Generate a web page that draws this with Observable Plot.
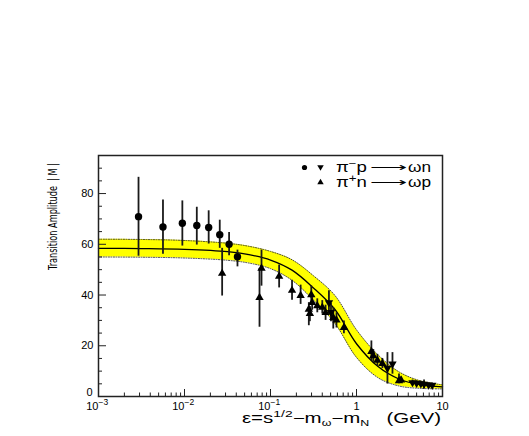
<!DOCTYPE html>
<html><head><meta charset="utf-8">
<script src="https://cdn.jsdelivr.net/npm/d3@7"></script>
<script src="https://cdn.jsdelivr.net/npm/@observablehq/plot@0.6"></script>
<style>html,body{margin:0;padding:0;background:#fff}#chart svg{display:block}</style>
</head><body><div id="chart"></div>
<script>
// ---- fitted curve with its uncertainty band ----
const fitEps = [0.001, 0.00316, 0.01, 0.0316, 0.0562, 0.1, 0.178, 0.316, 0.562, 1, 1.78, 3.16, 5.62, 10];
const fitAmp = [58.4, 58.3, 58.0, 57.1, 55.9, 53.8, 49.8, 42.8, 34.3, 20.8, 11.8, 6.8, 4.6, 3.8];
const fitLo  = [55.0, 54.9, 54.6, 53.7, 52.6, 50.4, 45.8, 38.0, 28.8, 15.4, 7.4, 4.1, 3.2, 3.0];
const fitHi  = [62.0, 61.9, 61.5, 60.4, 59.2, 57.2, 53.9, 47.6, 39.8, 26.3, 16.4, 9.6, 6.1, 4.6];

// ---- pi- p -> omega n : circles ----
const circEps = [0.00292, 0.00562, 0.00944, 0.0139, 0.0191, 0.0257, 0.033, 0.0413];
const circAmp = [70.9, 66.8, 68.3, 67.4, 66.6, 63.8, 60.0, 55.1];
const circLo  = [55.3, 56.1, 59.3, 59.7, 60.1, 58.4, 55.5, 51.1];
const circHi  = [86.4, 77.5, 77.1, 74.6, 73.2, 69.5, 64.6, 57.7];

// ---- pi- p -> omega n : down triangles ----
const downEps = [0.478, 0.505, 2.29, 2.62, 4.48, 5.0, 5.6, 6.1, 6.9, 7.6];
const downAmp = [37.0, 33.1, 11.2, 12.8, 5.5, 5.3, 5.1, 4.9, 4.6, 4.5];
const downLo  = [32.6, 29.5, 4.9, 8.8, 4.5, 4.4, 4.2, 3.0, 3.8, 3.8];
const downHi  = [41.7, 36.7, 17.3, 17.3, 6.5, 6.2, 6.0, 6.5, 5.4, 5.2];

// ---- pi+ n -> omega p : up triangles ----
const upEps = [0.0274, 0.0745, 0.0786, 0.126, 0.178, 0.224, 0.279, 0.287, 0.298, 0.305, 0.35, 0.40, 0.437, 0.537, 0.585, 0.714, 1.49, 1.57, 1.75, 2.0, 3.12, 3.3];
const upAmp = [48.5, 39.0, 50.5, 47.4, 41.8, 39.8, 34.4, 32.7, 40.1, 37.0, 35.7, 35.1, 33.1, 31.1, 30.1, 27.2, 17.7, 16.0, 14.3, 13.0, 6.2, 6.5];
const upLo  = [39.6, 27.3, 43.5, 42.8, 37.9, 36.3, 27.9, 29.5, 36.4, 34.0, 33.0, 32.5, 30.0, 26.6, 27.0, 24.7, 14.1, 13.5, 12.0, 11.0, 5.0, 5.3];
const upHi  = [58.4, 50.5, 57.7, 51.8, 45.8, 43.9, 37.0, 35.5, 43.6, 40.0, 38.5, 37.8, 36.0, 35.1, 33.0, 29.8, 21.9, 18.5, 16.6, 15.0, 8.9, 7.7];

// ---- axis ticks ----
const xMajorTicks = [0.001, 0.01, 0.1, 1, 10];
const xMinorTicks = [0.002,0.003,0.004,0.005,0.006,0.007,0.008,0.009,
                     0.02,0.03,0.04,0.05,0.06,0.07,0.08,0.09,
                     0.2,0.3,0.4,0.5,0.6,0.7,0.8,0.9,
                     2,3,4,5,6,7,8,9];
const xLabelBase = ["10", "10", "10", "1", "10"];
const xLabelExp  = ["\u22123", "\u22122", "\u22121", "", ""];
const yMajorTicks = [0, 20, 40, 60, 80];
const yMinorTicks = [5,10,15,25,30,35,45,50,55,65,70,75,85,90];

// build tables
const fit = fitEps.map((e, i) => ({eps: e, amp: fitAmp[i], lo: fitLo[i], hi: fitHi[i]}));
const mk = (E, A, L, H) => E.map((e, i) => ({eps: e, amp: A[i], lo: L[i], hi: H[i]}));
const circ = mk(circEps, circAmp, circLo, circHi);
const down = mk(downEps, downAmp, downLo, downHi);
const up = mk(upEps, upAmp, upLo, upHi);
const allPts = [...circ, ...down, ...up];
const xLabels = xMajorTicks.map((v, i) => ({v, base: xLabelBase[i], exp: xLabelExp[i]}));

const FONT = "'Liberation Sans', Arial, Helvetica, sans-serif";
const W = 529, H = 436, ML = 98, MR = 87, MT = 155, MB = 40;
const frameH = H - MT - MB, frameW = W - ML - MR;

const plot = Plot.plot({
  width: W, height: H,
  marginLeft: ML, marginRight: MR, marginTop: MT, marginBottom: MB,
  x: {type: "log", domain: [0.001, 10], axis: null},
  y: {domain: [0, 95], axis: null},
  style: {fontFamily: FONT, fontSize: "11px", background: "white", color: "black"},
  marks: [
    Plot.areaY(fit, {x: "eps", y1: "lo", y2: "hi", fill: "#ffff00", curve: "catmull-rom"}),
    Plot.line(fit, {x: "eps", y: "lo", stroke: "#333", strokeWidth: 0.9, strokeDasharray: "1,1.5", curve: "catmull-rom"}),
    Plot.line(fit, {x: "eps", y: "hi", stroke: "#333", strokeWidth: 0.9, strokeDasharray: "1,1.5", curve: "catmull-rom"}),
    Plot.line(fit, {x: "eps", y: "amp", stroke: "black", strokeWidth: 1.3, curve: "catmull-rom"}),
    Plot.ruleX(allPts, {x: "eps", y1: "lo", y2: "hi", stroke: "#1a1a1a", strokeWidth: 1.8}),
    Plot.dot(circ, {x: "eps", y: "amp", r: 3.7, fill: "black", stroke: "none"}),
    Plot.dot(up, {x: "eps", y: "amp", symbol: "triangle", r: 3.1, fill: "black", stroke: "none"}),
    Plot.dot(down, {x: "eps", y: "amp", symbol: "triangle", rotate: 180, r: 3.1, fill: "black", stroke: "none"}),
    // inward ticks
    Plot.tickX(xMajorTicks, {x: d => d, insetTop: frameH - 7, stroke: "#222", strokeWidth: 1}),
    Plot.tickX(xMinorTicks, {x: d => d, insetTop: frameH - 3.5, stroke: "#222", strokeWidth: 1}),
    Plot.tickY(yMajorTicks, {y: d => d, insetRight: frameW - 8, stroke: "#222", strokeWidth: 1}),
    Plot.tickY(yMinorTicks, {y: d => d, insetRight: frameW - 4, stroke: "#222", strokeWidth: 1}),
    // y tick labels (0 raised a little, as in the reference)
    Plot.text(yMajorTicks.filter(d => d > 0), {y: d => d, text: d => String(d), frameAnchor: "left", dx: -5, textAnchor: "end", lineAnchor: "middle", fontSize: 11}),
    Plot.text(yMajorTicks.filter(d => d === 0), {y: d => d, text: d => String(d), frameAnchor: "left", dx: -6, dy: -4, textAnchor: "end", lineAnchor: "middle", fontSize: 11}),
    // x tick labels
    Plot.text(xLabels.filter(d => d.exp), {x: "v", text: "base", frameAnchor: "bottom", dy: 13, lineAnchor: "bottom", textAnchor: "end", fontSize: 11}),
    Plot.text(xLabels.filter(d => d.exp), {x: "v", text: "exp", frameAnchor: "bottom", dy: 8, lineAnchor: "bottom", textAnchor: "start", fontSize: 8.5}),
    Plot.text(xLabels.filter(d => !d.exp), {x: "v", text: "base", frameAnchor: "bottom", dy: 13, lineAnchor: "bottom", textAnchor: "middle", fontSize: 11}),
    // legend markers
    Plot.dot([0], {frameAnchor: "top-right", dx: -138, dy: 12, r: 2.6, fill: "black", stroke: "none"}),
    Plot.dot([0], {frameAnchor: "top-right", dx: -122, dy: 11.5, symbol: "triangle", rotate: 180, r: 2.4, fill: "black", stroke: "none"}),
    Plot.dot([0], {frameAnchor: "top-right", dx: -122, dy: 27, symbol: "triangle", r: 2.4, fill: "black", stroke: "none"}),
    Plot.frame({stroke: "#222", strokeWidth: 1.5})
  ]
});
document.getElementById("chart").appendChild(plot);

// ---- text decorations ----
const svg = d3.select(plot);
const frameRight = plot.scale("x").apply(10);
const frameTop = plot.scale("y").apply(95);
const frameBottom = plot.scale("y").apply(0);

// legend
function reactionRow(baseY, a, sign, b, c) {
  const g = svg.append("g").attr("font-family", FONT).attr("font-size", 14)
    .attr("fill", "black").attr("text-anchor", "start");
  const t = g.append("text").attr("x", frameRight - 106).attr("y", baseY)
    .attr("textLength", 31).attr("lengthAdjust", "spacingAndGlyphs");
  t.append("tspan").text(a);
  t.append("tspan").attr("dy", -5).attr("font-size", 10).text(sign);
  t.append("tspan").attr("dy", 5).text(b);
  g.append("text").attr("x", frameRight - 72).attr("y", baseY)
    .attr("textLength", 37).attr("lengthAdjust", "spacingAndGlyphs").text("\u27F6");
  g.append("text").attr("x", frameRight - 34).attr("y", baseY)
    .attr("textLength", 23).attr("lengthAdjust", "spacingAndGlyphs").text(c);
}
reactionRow(frameTop + 16.5, "\u03C0", "\u2212", "p", "\u03C9n");
reactionRow(frameTop + 31.5, "\u03C0", "+", "n", "\u03C9p");

// x-axis title
const xt = svg.append("text").attr("x", frameRight - 200).attr("y", frameBottom + 27)
  .attr("text-anchor", "start")
  .attr("font-family", FONT).attr("font-size", 14).attr("fill", "black")
  .attr("textLength", 199).attr("lengthAdjust", "spacingAndGlyphs")
  .style("white-space", "pre");
xt.append("tspan").text("\u03B5=s");
xt.append("tspan").attr("dy", -6).attr("font-size", 9.5).text("1/2");
xt.append("tspan").attr("dy", 6).text("\u2212m");
xt.append("tspan").attr("dy", 3).attr("font-size", 8.5).text("\u03C9");
xt.append("tspan").attr("dy", -3).text("\u2212m");
xt.append("tspan").attr("dy", 3).attr("font-size", 8.5).text("N");
xt.append("tspan").attr("dy", -3).text("   (GeV)");

// y-axis title
svg.append("text")
  .attr("transform", "translate(57,270) rotate(-90)")
  .attr("text-anchor", "start")
  .attr("font-family", "'Liberation Sans Narrow', 'DejaVu Sans Condensed', 'Liberation Sans', sans-serif")
  .attr("font-size", 12.5).attr("fill", "black")
  .attr("textLength", 107).attr("lengthAdjust", "spacingAndGlyphs")
  .style("white-space", "pre")
  .text("Transition Amplitude  | M |");
</script>
</body></html>
